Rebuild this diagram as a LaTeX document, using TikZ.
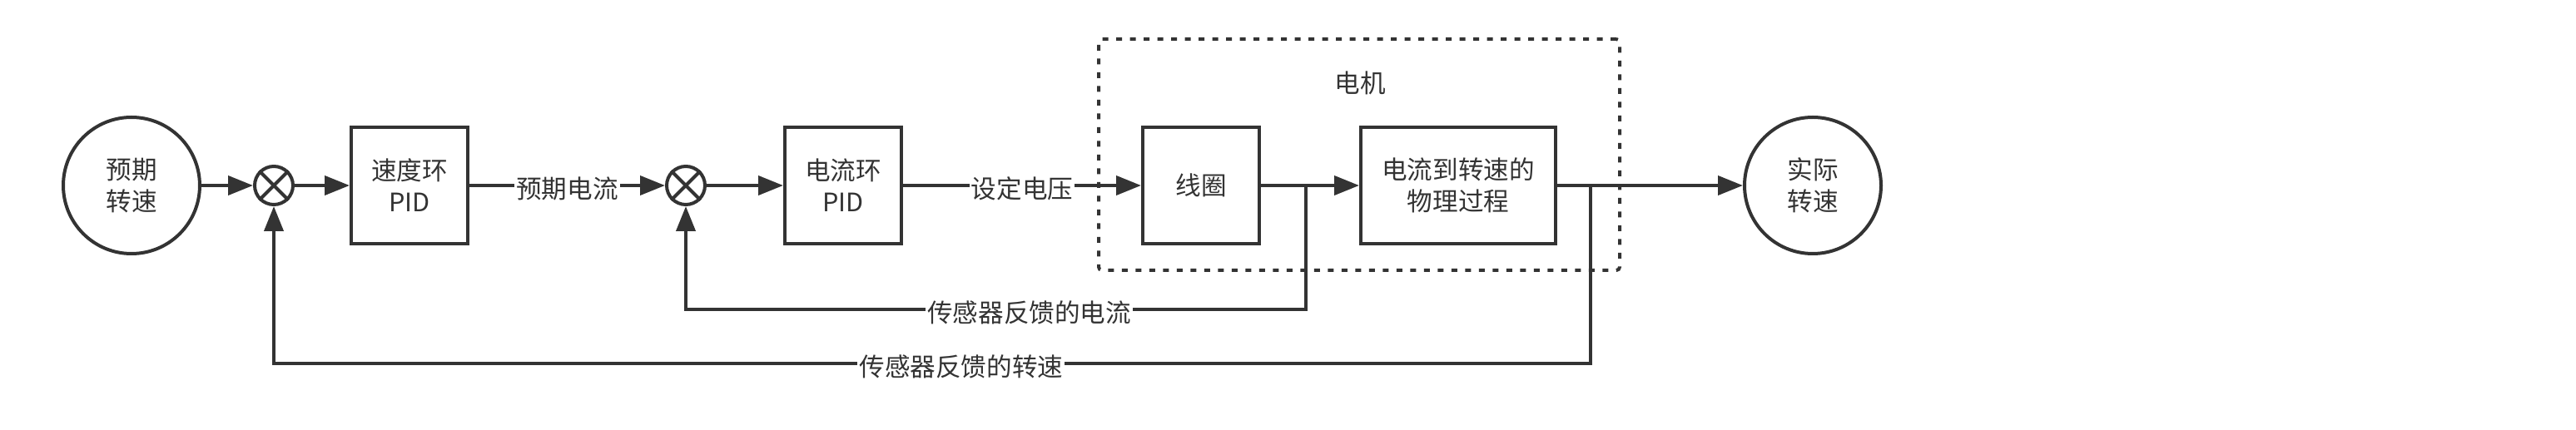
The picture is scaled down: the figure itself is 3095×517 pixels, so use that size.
\documentclass[tikz,border=0pt]{standalone}
\usepackage{fontspec}
\setmainfont{Noto Sans CJK SC}
\usetikzlibrary{arrows.meta}

\definecolor{ink}{RGB}{51,51,51}

\begin{document}
\begin{tikzpicture}[x=0.5pt,y=0.5pt,yscale=-1,xscale=1,
  every node/.style={text=ink, font=\fontsize{15.3pt}{19pt}\selectfont},
  blockbox/.style={draw=ink, line width=2pt, minimum width=70pt, minimum height=70pt, align=center, inner sep=0pt},
  endcircle/.style={circle, draw=ink, line width=2pt, minimum size=82pt, align=center, inner sep=0pt},
  sumcircle/.style={circle, draw=ink, line width=2pt, minimum size=23pt, inner sep=0pt},
  motorbox/.style={draw=ink, line width=2pt, dash pattern=on 3.5pt off 4.75pt, rounded corners=2pt, minimum width=313pt, minimum height=139pt, inner sep=0pt},
  link/.style={draw=ink, line width=2pt, -{Triangle[length=15pt,width=11.5pt]}},
  plain/.style={draw=ink, line width=2pt},
  edgelabel/.style={fill=white, inner sep=1pt, yshift=-2pt}
]
\useasboundingbox (0,0) rectangle (3095,517);

%Shape: Dotted Box
\node [motorbox] (motor) at (1633,186) {};
% Text Node
\node (motorlbl) at (1634,100) {电机};

%Shape: Circle
\node [endcircle] (want) at (158,223) {预期\\转速};
%Shape: Sum
\node [sumcircle] (s1) at (329,223) {};
\draw [plain] (s1.45) -- (s1.225) (s1.135) -- (s1.315);
%Shape: Rectangle
\node [blockbox] (pidv) at (492,223) {速度环\\PID};
%Shape: Sum
\node [sumcircle] (s2) at (824,223) {};
\draw [plain] (s2.45) -- (s2.225) (s2.135) -- (s2.315);
%Shape: Rectangle
\node [blockbox] (pidc) at (1013,223) {电流环\\PID};
%Shape: Rectangle
\node [blockbox] (coil) at (1443,223) {线圈};
%Shape: Rectangle
\node [blockbox, minimum width=117pt] (phys) at (1752,223) {电流到转速的\\物理过程};
%Shape: Circle
\node [endcircle] (real) at (2178,223) {实际\\转速};

%Straight Lines
\draw [link] (want) -- (s1);
\draw [link] (s1) -- (pidv);
\draw [link] (pidv) -- node [edgelabel] {预期电流} (s2);
\draw [link] (s2) -- (pidc);
\draw [link] (pidc) -- node [edgelabel] {设定电压} (coil);
\draw [link] (coil) -- (phys);
\draw [link] (phys) -- (real);

%Feedback Lines
\coordinate (jc) at (1569,223);
\coordinate (js) at (1911,223);
\draw [link] (jc) -- ++(0,149) -| node [edgelabel, pos=0.223] {传感器反馈的电流} (s2.south);
\draw [link] (js) -- ++(0,214) -| node [edgelabel, pos=0.239] {传感器反馈的转速} (s1.south);

\end{tikzpicture}
\end{document}
